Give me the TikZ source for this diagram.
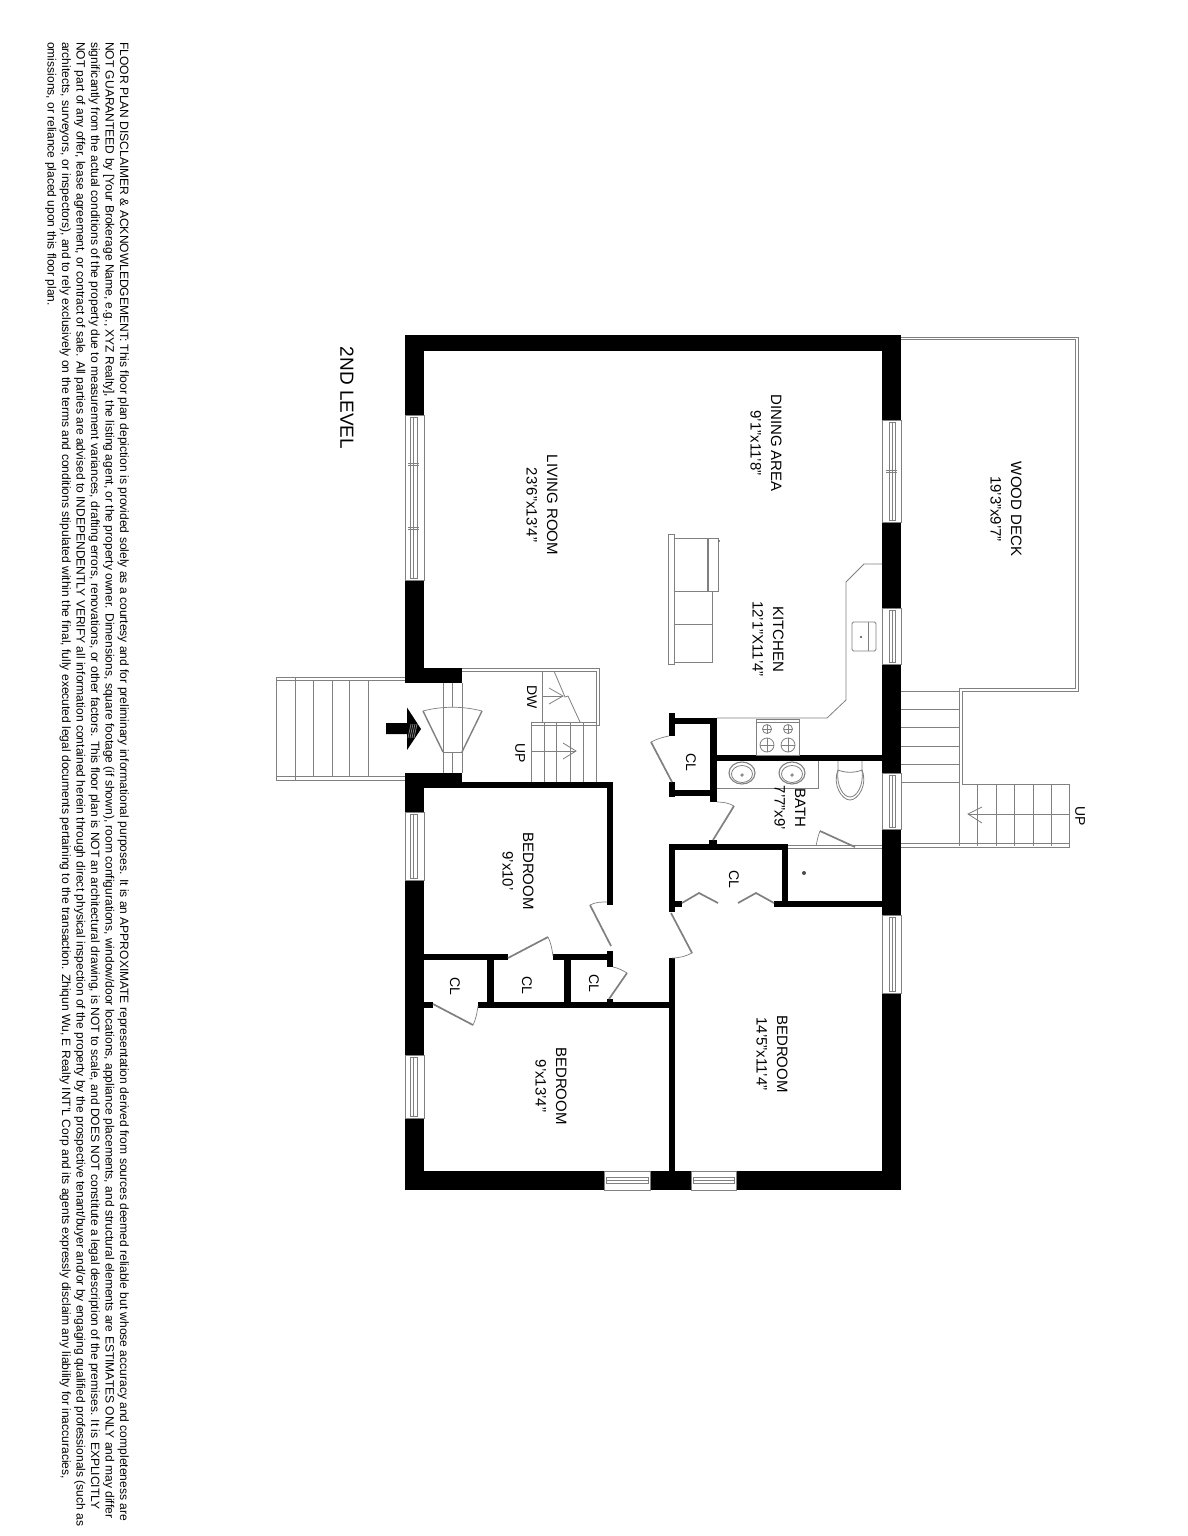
\documentclass[tikz,border=0pt]{standalone}
\usepackage{fontspec}
\setmainfont{Liberation Sans}
\definecolor{linegray}{gray}{0.5}
\tikzset{
    wall/.style={fill=black, draw=none},
    thin line/.style={draw=linegray, line width=0.8pt},
    pane/.style={draw=linegray, line width=0.8pt, fill=white},
    leaf/.style={draw=linegray, line width=1.7pt},
    swing/.style={draw=linegray, line width=0.7pt},
    roomlabel/.style={rotate=-90, align=center, font=\fontsize{15}{20.5}\selectfont, inner sep=0pt},
    closetlabel/.style={rotate=-90, inner sep=0pt, font=\fontsize{14}{16}\selectfont},
    noteline/.style={rotate=-90, anchor=south west, inner sep=0pt, font=\fontsize{12.05}{14}\selectfont},
}
\begin{document}
\begin{tikzpicture}[x=1pt, y=-1pt]
    \useasboundingbox (0, 0) rectangle (1187, 1536);
    \fill[white] (0, 0) rectangle (1187, 1536);

    % Deck and outside stairs
    \draw[thin line] (901, 337) -- (1078, 337) -- (1078, 691) -- (962, 691) -- (962, 784) -- (1069, 784) -- (1069, 847) -- (901, 847);
    \draw[thin line] (901, 339.5) -- (1075.5, 339.5) -- (1075.5, 688.5) -- (959.5, 688.5) -- (959.5, 846);
    \draw[thin line] (901, 843.5) -- (1069, 843.5);
    \draw[thin line] (788, 845) -- (882, 845);
    \draw[thin line] (788, 848) -- (882, 848);
    \foreach \y in {691, 709, 727, 746, 764, 782.5} {
        \draw[thin line] (901, \y) -- (959.5, \y);
    }
    \foreach \x in {977, 996, 1014, 1033, 1051} {
        \draw[thin line] (\x, 784) -- (\x, 846);
    }
    \draw[thin line] (1069, 814) -- (968, 814);
    \draw[thin line] (982, 807) -- (968, 814) -- (982, 823);

    % Front stairs
    \draw[thin line] (405, 677) -- (276, 677) -- (276, 780) -- (405, 780);
    \draw[thin line] (405, 680) -- (276, 680);
    \draw[thin line] (405, 776) -- (276, 776);
    \draw[thin line] (295, 677) -- (295, 780);
    \foreach \x in {313, 332, 349, 368} {
        \draw[thin line] (\x, 680) -- (\x, 776);
    }

    % Walls
    \fill[wall] (405, 335) rectangle (901, 351);
    \fill[wall] (405, 335) rectangle (424, 683);
    \fill[wall] (405, 668) rectangle (462, 683);
    \fill[wall] (405, 773) rectangle (462, 782);
    \fill[wall] (405, 773) rectangle (424, 1190);
    \fill[wall] (882, 335) rectangle (901, 1190);
    \fill[wall] (405, 1171) rectangle (901, 1190);
    % Bedroom walls
    \fill[wall] (405, 782) rectangle (613, 788);
    \fill[wall] (607, 782) rectangle (613, 905);
    \fill[wall] (607, 951) rectangle (613, 967);
    \fill[wall] (424, 954) rectangle (508, 960);
    \fill[wall] (553, 954) rectangle (613, 960);
    \fill[wall] (487, 954) rectangle (494, 1008);
    \fill[wall] (564, 954) rectangle (571, 1008);
    \fill[wall] (424, 1002) rectangle (433, 1008);
    \fill[wall] (478, 1002) rectangle (674, 1008);
    \fill[wall] (607, 999) rectangle (613, 1002);
    \fill[wall] (668.5, 958) rectangle (674.5, 1171);
    % Closet and bath walls
    \fill[wall] (669, 844) rectangle (675, 912);
    \fill[wall] (669, 901) rectangle (682, 907);
    \fill[wall] (669, 844) rectangle (788, 850);
    \fill[wall] (709, 840) rectangle (717, 844);
    \fill[wall] (782, 844) rectangle (788, 907);
    \fill[wall] (774, 901) rectangle (882, 907);
    \fill[wall] (710, 718) rectangle (717, 802);
    \fill[wall] (669, 718) rectangle (717, 724);
    \fill[wall] (669, 713) rectangle (675, 736);
    \fill[wall] (669, 782) rectangle (675, 797);
    \fill[wall] (669, 790) rectangle (717, 796);
    \fill[wall] (717, 755) rectangle (882, 761);

    % Windows, left wall
    \foreach \a/\b in {415/580, 812/880, 1055/1118} {
        \draw[pane] (405, \a) rectangle (424, \b);
        \draw[thin line] (410, \a + 2) rectangle (413.5, \b - 2);
        \draw[thin line] (413.5, \a + 2) rectangle (417, \b - 2);
    }
    \foreach \y in {463, 465, 527, 529} {
        \draw[thin line] (408, \y) -- (419, \y);
    }
    % Windows, right wall
    \foreach \a/\b in {420/522, 608/664, 773/829, 915/993} {
        \draw[pane] (882, \a) rectangle (901, \b);
        \draw[thin line] (889, \a + 2) rectangle (892, \b - 2);
        \draw[thin line] (892, \a + 2) rectangle (895, \b - 2);
    }
    \foreach \y in {470, 472} {
        \draw[thin line] (886, \y) -- (897, \y);
    }
    % Windows, bottom wall
    \foreach \a/\b in {604/650, 691/736} {
        \draw[pane] (\a, 1171) rectangle (\b, 1190);
        \draw[thin line] (\a + 2, 1177) rectangle (\b - 2, 1180);
        \draw[thin line] (\a + 2, 1180) rectangle (\b - 2, 1183);
    }

    % Entry door and arrow
    \draw[thin line] (443, 683) -- (443, 773);
    \draw[thin line] (462, 683) -- (462, 773);
    \draw[thin line] (452, 683) -- (452, 707);
    \draw[thin line] (452, 752) -- (452, 773);
    \draw[leaf, line width=1.4pt] (423, 711) -- (443, 752);
    \draw[leaf, line width=1.4pt] (482, 711) -- (462, 752);
    \draw[thin line] (443, 752) -- (462, 752);
    \draw[swing] (423, 711) .. controls (442, 706) and (463, 706) .. (482, 711);
    \fill[black] (386, 723) -- (407, 723) -- (407, 707.5) -- (421, 729) -- (407, 750) -- (407, 734) -- (386, 734) -- cycle;
    \foreach \x in {411, 413, 415, 417} {
        \draw[thin line] (\x, 724) -- (\x - 3, 738);
    }

    % Inside stairs
    \draw[thin line] (462, 668) -- (599, 668) -- (599, 725) -- (531, 725);
    \draw[thin line] (462, 671) -- (596, 671) -- (596, 722) -- (531, 722);
    \draw[thin line] (542, 671) -- (542, 722);
    \draw[thin line] (554, 671) -- (565, 697) -- (568, 696) -- (580, 722);
    \draw[thin line] (542, 696) -- (563, 696);
    \draw[thin line] (549, 688) -- (563, 696) -- (549, 704);
    \foreach \x in {531, 544, 556, 570, 583, 596} {
        \draw[thin line] (\x, 722) -- (\x, 782);
    }
    \draw[thin line] (531, 751) -- (576, 751);
    \draw[thin line] (563, 743) -- (576, 751) -- (563, 759);

    % Kitchen
    \draw[thin line] (882, 564) -- (864, 564) -- (846, 582) -- (846, 700) -- (827, 718) -- (717, 718);
    \draw[thin line, rounded corners=1.5pt] (852, 622) rectangle (876, 651);
    \draw[thin line] (868, 622) -- (868, 651);
    \fill[black!70] (861, 637) circle (1.2pt);
    \draw[thin line] (756, 719) rectangle (799, 755);
    \draw[thin line] (756, 722) -- (799, 722);
    \foreach \x/\y/\r in {767/729/4.5, 788/729/4.5, 767/745/7, 788/745/7} {
        \draw[thin line] (\x, \y) circle (\r);
        \draw[thin line] (\x - \r, \y) -- (\x + \r, \y);
        \draw[thin line] (\x, \y - \r) -- (\x, \y + \r);
    }

    % Island
    \draw[thin line] (668, 534) rectangle (674, 664);
    \draw[thin line] (674, 538) rectangle (708, 591);
    \draw[thin line, line width=1.1pt] (708, 538) -- (708, 591);
    \draw[thin line] (708, 538) rectangle (718, 591);
    \draw[thin line] (674, 591) -- (674, 662) -- (712, 662) -- (712, 591);
    \draw[thin line] (674, 624) -- (712, 624);
    \fill[black!60] (719, 541) circle (1pt);

    % Bath fixtures
    \draw[thin line] (717, 788) -- (818, 788) -- (818, 761);
    \foreach \x in {742, 792} {
        \draw[thin line, line width=1.1pt] (\x, 773) ellipse (13 and 11);
        \draw[thin line] (\x, 774) ellipse (10.5 and 8.5);
        \draw[thin line] (\x, 775) circle (1.2);
    }
    \draw[thin line] (838, 761) -- (838, 770) .. controls (832, 785) and (842, 800) .. (850, 800) .. controls (858, 800) and (868, 785) .. (862, 770) -- (862, 761);
    \draw[thin line] (838, 770) .. controls (836, 785) and (843, 797) .. (850, 797) .. controls (857, 797) and (864, 785) .. (862, 770) .. controls (855, 773) and (845, 773) .. (838, 770);
    \fill[black!70] (804, 873) circle (2);

    % Doors
    \draw[leaf] (682, 903) -- (699, 893) -- (718, 903);
    \draw[leaf] (774, 903) -- (756, 893) -- (738, 903);
    \draw[leaf] (713, 840) -- (734, 806);
    \draw[swing] (734, 806) .. controls (729, 803) and (723, 802) .. (717, 802);
    \draw[leaf] (672, 782) -- (651, 742);
    \draw[swing] (651, 742) .. controls (657, 739) and (663, 737) .. (669, 736);
    \draw[leaf] (671, 913) -- (692, 953);
    \draw[swing] (692, 953) .. controls (686, 956) and (680, 958) .. (672, 958);
    \draw[leaf] (611, 946) -- (590, 905);
    \draw[swing] (590, 905) .. controls (596, 902) and (601, 902) .. (607, 902);
    \draw[leaf] (508, 958) -- (548, 937);
    \draw[swing] (548, 937) .. controls (551, 943) and (552, 949) .. (553, 956);
    \draw[leaf] (609, 999) -- (627, 973);
    \draw[swing] (627, 973) .. controls (622, 970) and (618, 968) .. (613, 967);
    \draw[leaf] (433, 1004) -- (473, 1025);
    \draw[swing] (473, 1025) .. controls (476, 1019) and (477, 1013) .. (478, 1006);
    \draw[leaf] (820, 831) -- (855, 847);
    \draw[swing] (820, 831) .. controls (818, 836) and (817, 841) .. (816, 846);

    % Labels
    \node (level) [rotate=-90, inner sep=0pt, font=\fontsize{19}{21}\selectfont] at (347, 398) {2ND LEVEL};
    \node (living) [roomlabel] at (542, 505) {LIVING ROOM\\23'6"x13'4"};
    \node (dining) [roomlabel] at (766, 443) {DINING AREA\\9'1"x11'8"};
    \node (kitchen) [roomlabel] at (768, 639) {KITCHEN\\12'1"X11'4"};
    \node (deck) [roomlabel] at (1006, 509) {WOOD DECK\\19'3"x9'7"};
    \node (bath) [roomlabel] at (790, 808) {BATH\\7'7"x9'};
    \node (bedroomA) [roomlabel] at (518, 871) {BEDROOM\\9'x10'};
    \node (bedroomB) [roomlabel] at (551, 1086) {BEDROOM\\9'x13'4"};
    \node (bedroomC) [roomlabel] at (772, 1054) {BEDROOM\\14'5"x11'4"};
    \node (clA) [closetlabel] at (691, 762) {CL};
    \node (clB) [closetlabel] at (734, 879) {CL};
    \node (clC) [closetlabel] at (455, 986) {CL};
    \node (clD) [closetlabel] at (527, 985) {CL};
    \node (clE) [closetlabel] at (594, 983) {CL};
    \node (down) [closetlabel] at (532, 697) {DW};
    \node (upA) [closetlabel] at (520, 753) {UP};
    \node (upB) [closetlabel] at (1080, 816) {UP};

    % Disclaimer
    \node (noteA) [noteline] at (117.5, 42) {FLOOR PLAN DISCLAIMER \& ACKNOWLEDGEMENT: This floor plan depiction is provided solely as a courtesy and for preliminary informational purposes. It is an APPROXIMATE representation derived from sources deemed reliable but whose accuracy and completeness are};
    \node (noteB) [noteline] at (103, 42) {NOT GUARANTEED by [Your Brokerage Name, e.g., XYZ Realty], the listing agent, or the property owner. Dimensions, square footage (if shown), room configurations, window/door locations, appliance placements, and structural elements are ESTIMATES ONLY and may differ};
    \node (noteC) [noteline] at (88.5, 42) {significantly from the actual conditions of the property due to measurement variances, drafting errors, renovations, or other factors. This floor plan is NOT an architectural drawing, is NOT to scale, and DOES NOT constitute a legal description of the premises. It is EXPLICITLY};
    \node (noteD) [noteline] at (74, 42) {NOT part of any offer, lease agreement, or contract of sale. All parties are advised to INDEPENDENTLY VERIFY all information contained herein through direct physical inspection of the property by the prospective tenant/buyer and/or by engaging qualified professionals (such as};
    \node (noteE) [noteline] at (59.5, 42) {architects, surveyors, or inspectors), and to rely exclusively on the terms and conditions stipulated within the final, fully executed legal documents pertaining to the transaction. Zhiqun Wu, E Realty INT'L Corp and its agents expressly disclaim any liability for inaccuracies,};
    \node (noteF) [noteline] at (45, 42) {omissions, or reliance placed upon this floor plan.};
\end{tikzpicture}
\end{document}
